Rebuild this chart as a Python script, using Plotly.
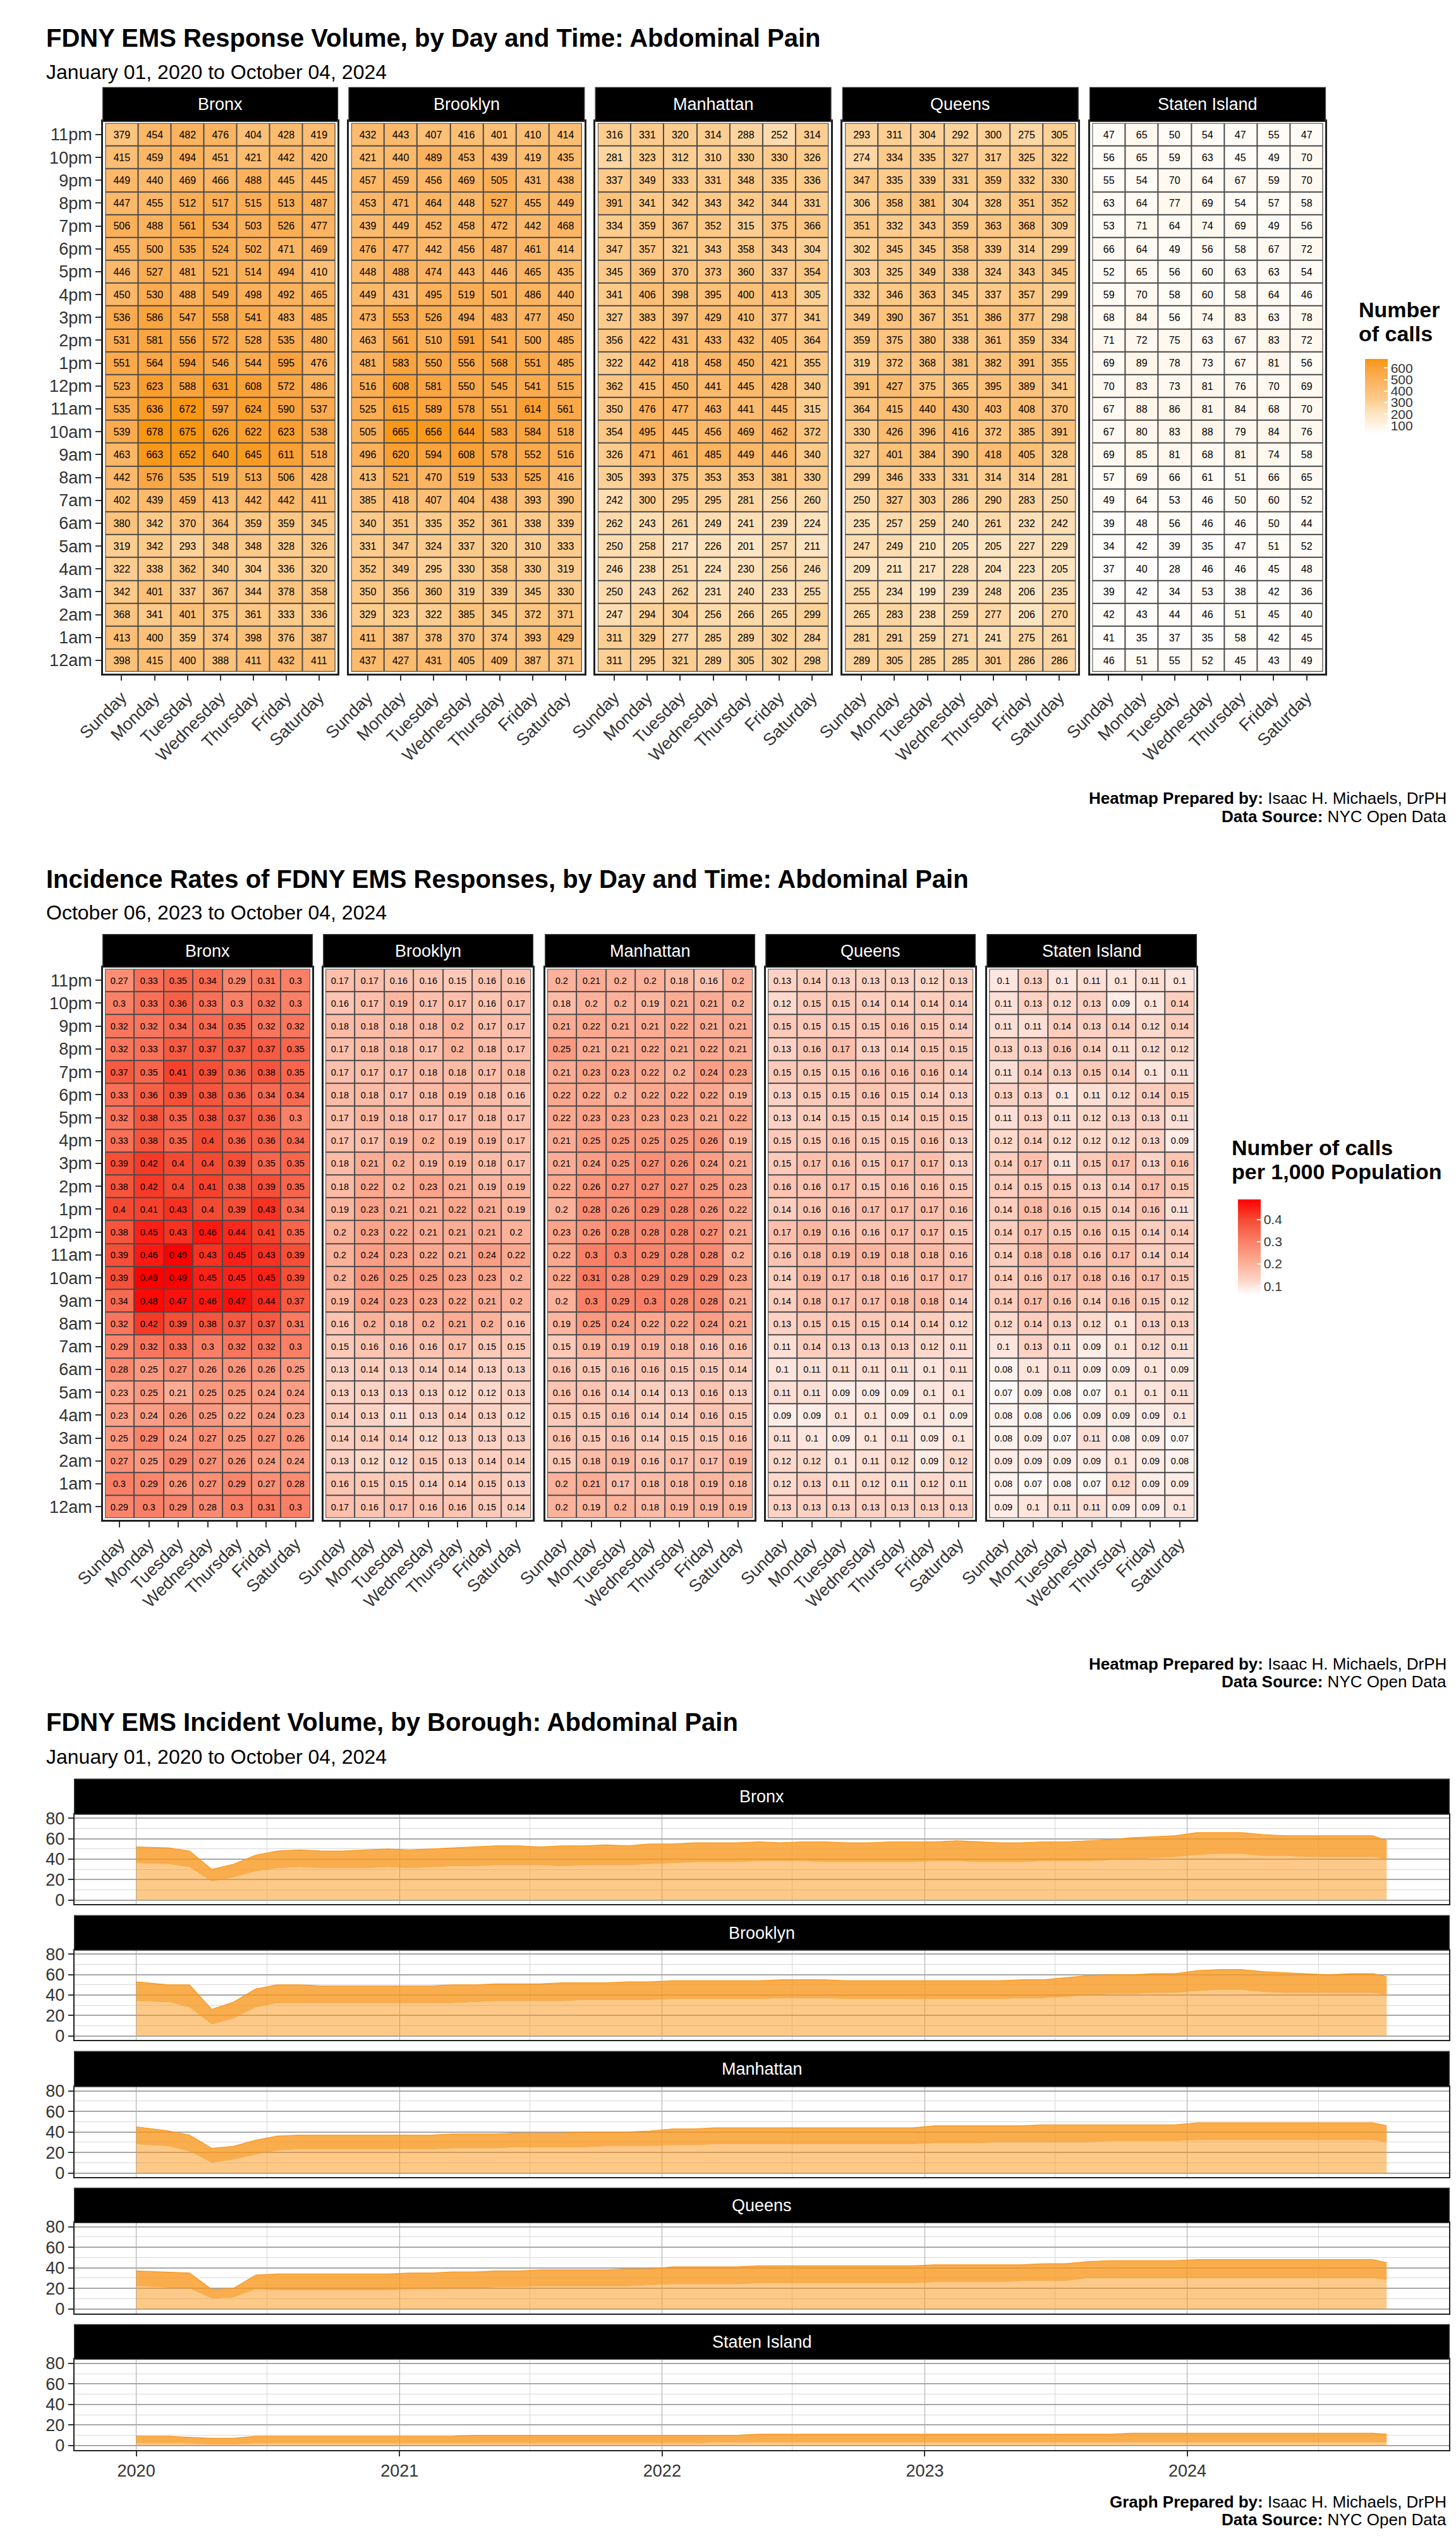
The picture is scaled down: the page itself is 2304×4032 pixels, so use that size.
import plotly.graph_objects as go
import pandas as pd

W, H = 2304, 4032
FONT = "Liberation Sans, Arial, Helvetica, sans-serif"

boroughs = ["Bronx", "Brooklyn", "Manhattan", "Queens", "Staten Island"]
days = ["Sunday", "Monday", "Tuesday", "Wednesday", "Thursday", "Friday", "Saturday"]
hours = ["11pm", "10pm", "9pm", "8pm", "7pm", "6pm", "5pm", "4pm", "3pm", "2pm", "1pm", "12pm",
         "11am", "10am", "9am", "8am", "7am", "6am", "5am", "4am", "3am", "2am", "1am", "12am"]

# ---------------- Heatmap 1: number of calls (rows: 11pm -> 12am, cols: Sunday -> Saturday)
calls_bronx = [
    [379, 454, 482, 476, 404, 428, 419], [415, 459, 494, 451, 421, 442, 420],
    [449, 440, 469, 466, 488, 445, 445], [447, 455, 512, 517, 515, 513, 487],
    [506, 488, 561, 534, 503, 526, 477], [455, 500, 535, 524, 502, 471, 469],
    [446, 527, 481, 521, 514, 494, 410], [450, 530, 488, 549, 498, 492, 465],
    [536, 586, 547, 558, 541, 483, 485], [531, 581, 556, 572, 528, 535, 480],
    [551, 564, 594, 546, 544, 595, 476], [523, 623, 588, 631, 608, 572, 486],
    [535, 636, 672, 597, 624, 590, 537], [539, 678, 675, 626, 622, 623, 538],
    [463, 663, 652, 640, 645, 611, 518], [442, 576, 535, 519, 513, 506, 428],
    [402, 439, 459, 413, 442, 442, 411], [380, 342, 370, 364, 359, 359, 345],
    [319, 342, 293, 348, 348, 328, 326], [322, 338, 362, 340, 304, 336, 320],
    [342, 401, 337, 367, 344, 378, 358], [368, 341, 401, 375, 361, 333, 336],
    [413, 400, 359, 374, 398, 376, 387], [398, 415, 400, 388, 411, 432, 411]]
calls_brooklyn = [
    [432, 443, 407, 416, 401, 410, 414], [421, 440, 489, 453, 439, 419, 435],
    [457, 459, 456, 469, 505, 431, 438], [453, 471, 464, 448, 527, 455, 449],
    [439, 449, 452, 458, 472, 442, 468], [476, 477, 442, 456, 487, 461, 414],
    [448, 488, 474, 443, 446, 465, 435], [449, 431, 495, 519, 501, 486, 440],
    [473, 553, 526, 494, 483, 477, 450], [463, 561, 510, 591, 541, 500, 485],
    [481, 583, 550, 556, 568, 551, 485], [516, 608, 581, 550, 545, 541, 515],
    [525, 615, 589, 578, 551, 614, 561], [505, 665, 656, 644, 583, 584, 518],
    [496, 620, 594, 608, 578, 552, 516], [413, 521, 470, 519, 533, 525, 416],
    [385, 418, 407, 404, 438, 393, 390], [340, 351, 335, 352, 361, 338, 339],
    [331, 347, 324, 337, 320, 310, 333], [352, 349, 295, 330, 358, 330, 319],
    [350, 356, 360, 319, 339, 345, 330], [329, 323, 322, 385, 345, 372, 371],
    [411, 387, 378, 370, 374, 393, 429], [437, 427, 431, 405, 409, 387, 371]]
calls_manhattan = [
    [316, 331, 320, 314, 288, 252, 314], [281, 323, 312, 310, 330, 330, 326],
    [337, 349, 333, 331, 348, 335, 336], [391, 341, 342, 343, 342, 344, 331],
    [334, 359, 367, 352, 315, 375, 366], [347, 357, 321, 343, 358, 343, 304],
    [345, 369, 370, 373, 360, 337, 354], [341, 406, 398, 395, 400, 413, 305],
    [327, 383, 397, 429, 410, 377, 341], [356, 422, 431, 433, 432, 405, 364],
    [322, 442, 418, 458, 450, 421, 355], [362, 415, 450, 441, 445, 428, 340],
    [350, 476, 477, 463, 441, 445, 315], [354, 495, 445, 456, 469, 462, 372],
    [326, 471, 461, 485, 449, 446, 340], [305, 393, 375, 353, 353, 381, 330],
    [242, 300, 295, 295, 281, 256, 260], [262, 243, 261, 249, 241, 239, 224],
    [250, 258, 217, 226, 201, 257, 211], [246, 238, 251, 224, 230, 256, 246],
    [250, 243, 262, 231, 240, 233, 255], [247, 294, 304, 256, 266, 265, 299],
    [311, 329, 277, 285, 289, 302, 284], [311, 295, 321, 289, 305, 302, 298]]
calls_queens = [
    [293, 311, 304, 292, 300, 275, 305], [274, 334, 335, 327, 317, 325, 322],
    [347, 335, 339, 331, 359, 332, 330], [306, 358, 381, 304, 328, 351, 352],
    [351, 332, 343, 359, 363, 368, 309], [302, 345, 345, 358, 339, 314, 299],
    [303, 325, 349, 338, 324, 343, 345], [332, 346, 363, 345, 337, 357, 299],
    [349, 390, 367, 351, 386, 377, 298], [359, 375, 380, 338, 361, 359, 334],
    [319, 372, 368, 381, 382, 391, 355], [391, 427, 375, 365, 395, 389, 341],
    [364, 415, 440, 430, 403, 408, 370], [330, 426, 396, 416, 372, 385, 391],
    [327, 401, 384, 390, 418, 405, 328], [299, 346, 333, 331, 314, 314, 281],
    [250, 327, 303, 286, 290, 283, 250], [235, 257, 259, 240, 261, 232, 242],
    [247, 249, 210, 205, 205, 227, 229], [209, 211, 217, 228, 204, 223, 205],
    [255, 234, 199, 239, 248, 206, 235], [265, 283, 238, 259, 277, 206, 270],
    [281, 291, 259, 271, 241, 275, 261], [289, 305, 285, 285, 301, 286, 286]]
calls_staten = [
    [47, 65, 50, 54, 47, 55, 47], [56, 65, 59, 63, 45, 49, 70],
    [55, 54, 70, 64, 67, 59, 70], [63, 64, 77, 69, 54, 57, 58],
    [53, 71, 64, 74, 69, 49, 56], [66, 64, 49, 56, 58, 67, 72],
    [52, 65, 56, 60, 63, 63, 54], [59, 70, 58, 60, 58, 64, 46],
    [68, 84, 56, 74, 83, 63, 78], [71, 72, 75, 63, 67, 83, 72],
    [69, 89, 78, 73, 67, 81, 56], [70, 83, 73, 81, 76, 70, 69],
    [67, 88, 86, 81, 84, 68, 70], [67, 80, 83, 88, 79, 84, 76],
    [69, 85, 81, 68, 81, 74, 58], [57, 69, 66, 61, 51, 66, 65],
    [49, 64, 53, 46, 50, 60, 52], [39, 48, 56, 46, 46, 50, 44],
    [34, 42, 39, 35, 47, 51, 52], [37, 40, 28, 46, 46, 45, 48],
    [39, 42, 34, 53, 38, 42, 36], [42, 43, 44, 46, 51, 45, 40],
    [41, 35, 37, 35, 58, 42, 45], [46, 51, 55, 52, 45, 43, 49]]

# ---------------- Heatmap 2: calls per 1,000 population
rate_bronx = [
    [0.27, 0.33, 0.35, 0.34, 0.29, 0.31, 0.3], [0.3, 0.33, 0.36, 0.33, 0.3, 0.32, 0.3],
    [0.32, 0.32, 0.34, 0.34, 0.35, 0.32, 0.32], [0.32, 0.33, 0.37, 0.37, 0.37, 0.37, 0.35],
    [0.37, 0.35, 0.41, 0.39, 0.36, 0.38, 0.35], [0.33, 0.36, 0.39, 0.38, 0.36, 0.34, 0.34],
    [0.32, 0.38, 0.35, 0.38, 0.37, 0.36, 0.3], [0.33, 0.38, 0.35, 0.4, 0.36, 0.36, 0.34],
    [0.39, 0.42, 0.4, 0.4, 0.39, 0.35, 0.35], [0.38, 0.42, 0.4, 0.41, 0.38, 0.39, 0.35],
    [0.4, 0.41, 0.43, 0.4, 0.39, 0.43, 0.34], [0.38, 0.45, 0.43, 0.46, 0.44, 0.41, 0.35],
    [0.39, 0.46, 0.49, 0.43, 0.45, 0.43, 0.39], [0.39, 0.49, 0.49, 0.45, 0.45, 0.45, 0.39],
    [0.34, 0.48, 0.47, 0.46, 0.47, 0.44, 0.37], [0.32, 0.42, 0.39, 0.38, 0.37, 0.37, 0.31],
    [0.29, 0.32, 0.33, 0.3, 0.32, 0.32, 0.3], [0.28, 0.25, 0.27, 0.26, 0.26, 0.26, 0.25],
    [0.23, 0.25, 0.21, 0.25, 0.25, 0.24, 0.24], [0.23, 0.24, 0.26, 0.25, 0.22, 0.24, 0.23],
    [0.25, 0.29, 0.24, 0.27, 0.25, 0.27, 0.26], [0.27, 0.25, 0.29, 0.27, 0.26, 0.24, 0.24],
    [0.3, 0.29, 0.26, 0.27, 0.29, 0.27, 0.28], [0.29, 0.3, 0.29, 0.28, 0.3, 0.31, 0.3]]
rate_brooklyn = [
    [0.17, 0.17, 0.16, 0.16, 0.15, 0.16, 0.16], [0.16, 0.17, 0.19, 0.17, 0.17, 0.16, 0.17],
    [0.18, 0.18, 0.18, 0.18, 0.2, 0.17, 0.17], [0.17, 0.18, 0.18, 0.17, 0.2, 0.18, 0.17],
    [0.17, 0.17, 0.17, 0.18, 0.18, 0.17, 0.18], [0.18, 0.18, 0.17, 0.18, 0.19, 0.18, 0.16],
    [0.17, 0.19, 0.18, 0.17, 0.17, 0.18, 0.17], [0.17, 0.17, 0.19, 0.2, 0.19, 0.19, 0.17],
    [0.18, 0.21, 0.2, 0.19, 0.19, 0.18, 0.17], [0.18, 0.22, 0.2, 0.23, 0.21, 0.19, 0.19],
    [0.19, 0.23, 0.21, 0.21, 0.22, 0.21, 0.19], [0.2, 0.23, 0.22, 0.21, 0.21, 0.21, 0.2],
    [0.2, 0.24, 0.23, 0.22, 0.21, 0.24, 0.22], [0.2, 0.26, 0.25, 0.25, 0.23, 0.23, 0.2],
    [0.19, 0.24, 0.23, 0.23, 0.22, 0.21, 0.2], [0.16, 0.2, 0.18, 0.2, 0.21, 0.2, 0.16],
    [0.15, 0.16, 0.16, 0.16, 0.17, 0.15, 0.15], [0.13, 0.14, 0.13, 0.14, 0.14, 0.13, 0.13],
    [0.13, 0.13, 0.13, 0.13, 0.12, 0.12, 0.13], [0.14, 0.13, 0.11, 0.13, 0.14, 0.13, 0.12],
    [0.14, 0.14, 0.14, 0.12, 0.13, 0.13, 0.13], [0.13, 0.12, 0.12, 0.15, 0.13, 0.14, 0.14],
    [0.16, 0.15, 0.15, 0.14, 0.14, 0.15, 0.13], [0.17, 0.16, 0.17, 0.16, 0.16, 0.15, 0.14]]
rate_manhattan = [
    [0.2, 0.21, 0.2, 0.2, 0.18, 0.16, 0.2], [0.18, 0.2, 0.2, 0.19, 0.21, 0.21, 0.2],
    [0.21, 0.22, 0.21, 0.21, 0.22, 0.21, 0.21], [0.25, 0.21, 0.21, 0.22, 0.21, 0.22, 0.21],
    [0.21, 0.23, 0.23, 0.22, 0.2, 0.24, 0.23], [0.22, 0.22, 0.2, 0.22, 0.22, 0.22, 0.19],
    [0.22, 0.23, 0.23, 0.23, 0.23, 0.21, 0.22], [0.21, 0.25, 0.25, 0.25, 0.25, 0.26, 0.19],
    [0.21, 0.24, 0.25, 0.27, 0.26, 0.24, 0.21], [0.22, 0.26, 0.27, 0.27, 0.27, 0.25, 0.23],
    [0.2, 0.28, 0.26, 0.29, 0.28, 0.26, 0.22], [0.23, 0.26, 0.28, 0.28, 0.28, 0.27, 0.21],
    [0.22, 0.3, 0.3, 0.29, 0.28, 0.28, 0.2], [0.22, 0.31, 0.28, 0.29, 0.29, 0.29, 0.23],
    [0.2, 0.3, 0.29, 0.3, 0.28, 0.28, 0.21], [0.19, 0.25, 0.24, 0.22, 0.22, 0.24, 0.21],
    [0.15, 0.19, 0.19, 0.19, 0.18, 0.16, 0.16], [0.16, 0.15, 0.16, 0.16, 0.15, 0.15, 0.14],
    [0.16, 0.16, 0.14, 0.14, 0.13, 0.16, 0.13], [0.15, 0.15, 0.16, 0.14, 0.14, 0.16, 0.15],
    [0.16, 0.15, 0.16, 0.14, 0.15, 0.15, 0.16], [0.15, 0.18, 0.19, 0.16, 0.17, 0.17, 0.19],
    [0.2, 0.21, 0.17, 0.18, 0.18, 0.19, 0.18], [0.2, 0.19, 0.2, 0.18, 0.19, 0.19, 0.19]]
rate_queens = [
    [0.13, 0.14, 0.13, 0.13, 0.13, 0.12, 0.13], [0.12, 0.15, 0.15, 0.14, 0.14, 0.14, 0.14],
    [0.15, 0.15, 0.15, 0.15, 0.16, 0.15, 0.14], [0.13, 0.16, 0.17, 0.13, 0.14, 0.15, 0.15],
    [0.15, 0.15, 0.15, 0.16, 0.16, 0.16, 0.14], [0.13, 0.15, 0.15, 0.16, 0.15, 0.14, 0.13],
    [0.13, 0.14, 0.15, 0.15, 0.14, 0.15, 0.15], [0.15, 0.15, 0.16, 0.15, 0.15, 0.16, 0.13],
    [0.15, 0.17, 0.16, 0.15, 0.17, 0.17, 0.13], [0.16, 0.16, 0.17, 0.15, 0.16, 0.16, 0.15],
    [0.14, 0.16, 0.16, 0.17, 0.17, 0.17, 0.16], [0.17, 0.19, 0.16, 0.16, 0.17, 0.17, 0.15],
    [0.16, 0.18, 0.19, 0.19, 0.18, 0.18, 0.16], [0.14, 0.19, 0.17, 0.18, 0.16, 0.17, 0.17],
    [0.14, 0.18, 0.17, 0.17, 0.18, 0.18, 0.14], [0.13, 0.15, 0.15, 0.15, 0.14, 0.14, 0.12],
    [0.11, 0.14, 0.13, 0.13, 0.13, 0.12, 0.11], [0.1, 0.11, 0.11, 0.11, 0.11, 0.1, 0.11],
    [0.11, 0.11, 0.09, 0.09, 0.09, 0.1, 0.1], [0.09, 0.09, 0.1, 0.1, 0.09, 0.1, 0.09],
    [0.11, 0.1, 0.09, 0.1, 0.11, 0.09, 0.1], [0.12, 0.12, 0.1, 0.11, 0.12, 0.09, 0.12],
    [0.12, 0.13, 0.11, 0.12, 0.11, 0.12, 0.11], [0.13, 0.13, 0.13, 0.13, 0.13, 0.13, 0.13]]
rate_staten = [
    [0.1, 0.13, 0.1, 0.11, 0.1, 0.11, 0.1], [0.11, 0.13, 0.12, 0.13, 0.09, 0.1, 0.14],
    [0.11, 0.11, 0.14, 0.13, 0.14, 0.12, 0.14], [0.13, 0.13, 0.16, 0.14, 0.11, 0.12, 0.12],
    [0.11, 0.14, 0.13, 0.15, 0.14, 0.1, 0.11], [0.13, 0.13, 0.1, 0.11, 0.12, 0.14, 0.15],
    [0.11, 0.13, 0.11, 0.12, 0.13, 0.13, 0.11], [0.12, 0.14, 0.12, 0.12, 0.12, 0.13, 0.09],
    [0.14, 0.17, 0.11, 0.15, 0.17, 0.13, 0.16], [0.14, 0.15, 0.15, 0.13, 0.14, 0.17, 0.15],
    [0.14, 0.18, 0.16, 0.15, 0.14, 0.16, 0.11], [0.14, 0.17, 0.15, 0.16, 0.15, 0.14, 0.14],
    [0.14, 0.18, 0.18, 0.16, 0.17, 0.14, 0.14], [0.14, 0.16, 0.17, 0.18, 0.16, 0.17, 0.15],
    [0.14, 0.17, 0.16, 0.14, 0.16, 0.15, 0.12], [0.12, 0.14, 0.13, 0.12, 0.1, 0.13, 0.13],
    [0.1, 0.13, 0.11, 0.09, 0.1, 0.12, 0.11], [0.08, 0.1, 0.11, 0.09, 0.09, 0.1, 0.09],
    [0.07, 0.09, 0.08, 0.07, 0.1, 0.1, 0.11], [0.08, 0.08, 0.06, 0.09, 0.09, 0.09, 0.1],
    [0.08, 0.09, 0.07, 0.11, 0.08, 0.09, 0.07], [0.09, 0.09, 0.09, 0.09, 0.1, 0.09, 0.08],
    [0.08, 0.07, 0.08, 0.07, 0.12, 0.09, 0.09], [0.09, 0.1, 0.11, 0.11, 0.09, 0.09, 0.1]]

# ---------------- Daily incident volume: monthly envelope of daily values
# (Jan 2020 ... Sep 2024, Oct 2024 partial) -> typical daily low / high within each month
vol_low = {
    "Bronx": [36, 35, 32, 18, 22, 28, 31, 32, 31, 31, 31, 32,
              31, 32, 33, 33, 34, 34, 34, 33, 34, 34, 34, 35,
              36, 37, 37, 37, 38, 38, 38, 37, 37, 37, 37, 37,
              38, 38, 37, 37, 37, 38, 38, 38, 39, 40, 41, 42,
              44, 45, 45, 43, 43, 42, 42, 42, 42, 40],
    "Brooklyn": [34, 33, 28, 11, 17, 28, 32, 32, 32, 32, 32, 32,
                 32, 32, 32, 33, 34, 34, 34, 34, 35, 35, 35, 35,
                 36, 36, 36, 36, 36, 37, 37, 37, 36, 36, 36, 36,
                 36, 36, 36, 36, 37, 37, 38, 40, 41, 41, 42, 42,
                 44, 45, 45, 43, 42, 42, 42, 42, 42, 40],
    "Manhattan": [28, 26, 21, 10, 13, 18, 22, 23, 23, 23, 23, 23,
                  23, 23, 24, 24, 24, 25, 25, 25, 25, 26, 26, 26,
                  27, 27, 28, 28, 28, 28, 28, 28, 28, 28, 28, 28,
                  29, 29, 29, 30, 30, 30, 30, 30, 31, 31, 31, 31,
                  32, 32, 32, 32, 32, 32, 32, 32, 32, 30],
    "Queens": [22, 21, 20, 10, 11, 19, 18, 18, 18, 18, 18, 18,
               19, 19, 20, 20, 21, 21, 22, 22, 22, 22, 22, 23,
               24, 24, 24, 24, 25, 25, 25, 25, 25, 25, 25, 25,
               26, 26, 26, 26, 27, 27, 27, 30, 30, 30, 30, 30,
               30, 30, 30, 30, 30, 30, 30, 30, 30, 28],
    "Staten Island": [2, 2, 2, 1, 1, 2, 2, 2, 2, 2, 2, 2,
                      2, 2, 2, 2, 2, 2, 2, 2, 2, 2, 2, 2,
                      2, 2, 3, 3, 3, 3, 3, 3, 3, 3, 3, 3,
                      3, 3, 3, 3, 3, 3, 3, 3, 3, 3, 3, 3,
                      3, 3, 3, 3, 3, 3, 3, 3, 3, 3],
}
vol_high = {
    "Bronx": [52, 51, 48, 30, 35, 44, 48, 49, 48, 48, 49, 50,
              49, 50, 51, 52, 53, 53, 52, 53, 53, 54, 53, 55,
              55, 56, 56, 56, 57, 56, 57, 57, 56, 56, 57, 57,
              57, 58, 57, 56, 56, 57, 57, 58, 59, 61, 62, 63,
              66, 66, 66, 64, 63, 63, 63, 63, 63, 58],
    "Brooklyn": [53, 50, 50, 26, 33, 46, 50, 50, 49, 49, 49, 49,
                 49, 49, 50, 50, 51, 51, 51, 52, 52, 52, 53, 53,
                 54, 54, 54, 54, 54, 55, 55, 55, 54, 54, 54, 54,
                 54, 54, 54, 54, 55, 55, 57, 59, 60, 60, 61, 61,
                 64, 65, 65, 63, 62, 61, 60, 61, 61, 58],
    "Manhattan": [45, 41, 37, 24, 26, 32, 36, 37, 37, 37, 37, 37,
                  37, 37, 38, 38, 38, 39, 39, 39, 40, 40, 40, 41,
                  43, 43, 44, 44, 44, 44, 44, 44, 44, 44, 44, 44,
                  46, 46, 46, 46, 46, 47, 47, 47, 47, 47, 47, 47,
                  49, 49, 49, 49, 49, 49, 49, 49, 49, 46],
    "Queens": [37, 36, 35, 19, 20, 33, 34, 34, 34, 34, 34, 34,
               35, 35, 36, 36, 37, 37, 38, 38, 38, 38, 39, 39,
               41, 41, 41, 41, 42, 42, 42, 42, 42, 42, 42, 42,
               43, 43, 43, 43, 43, 44, 44, 46, 47, 47, 47, 47,
               48, 48, 48, 48, 48, 48, 48, 48, 48, 45],
    "Staten Island": [9, 9, 8, 7, 7, 9, 9, 9, 9, 9, 9, 9,
                      9, 9, 9, 10, 10, 10, 10, 10, 10, 10, 10, 10,
                      10, 10, 10, 10, 11, 11, 11, 11, 11, 11, 11, 11,
                      11, 11, 11, 11, 11, 11, 11, 11, 11, 12, 12, 12,
                      12, 12, 12, 12, 12, 12, 12, 12, 12, 11],
}
start_date, end_date = "2020-01-01", "2024-10-04"
year_ticks = ["2020", "2021", "2022", "2023", "2024"]

# x positions for the monthly envelope (first and last points at the data span ends)
months = pd.date_range(start_date, "2024-10-01", freq="MS")
env_x = [m + pd.Timedelta(days=14) for m in months]
env_x[0] = pd.Timestamp(start_date)
env_x[-1] = pd.Timestamp(end_date)


# ---------------- layout helpers (pixel -> paper)
def fx(p):
    return p / W


def fy(p):
    return 1 - p / H


def ax_names(n):
    s = "" if n == 1 else str(n)
    return f"x{s}", f"y{s}", f"xaxis{s}", f"yaxis{s}"


h1_cols = [(112, 491), (509, 889), (907, 1287), (1306, 1686), (1705, 2085)]
h1_rows = (177, 1054)
h1_strip = (123, 177)
h2_cols = [(112, 450), (468, 806), (826, 1164), (1182, 1520), (1539, 1877)]
h2_rows = (1521, 2399)
h2_strip = (1469, 1521)
ts_cols = (66, 2285)
ts_panels = [(2867, 3010), (3083, 3226), (3300, 3444), (3516, 3660), (3733, 3877)]
ts_strips = [(2811, 2867), (3028, 3083), (3244, 3300), (3461, 3516), (3678, 3733)]

AX_TXT = 27
LEG_TXT = 21
TXT_COL = "#333333"
PAD = 0.07  # small white padding between panel border and tiles (in tile units)

orange_scale = [[0, "#FFFFFF"], [0.3, "#FEE2BC"], [0.45, "#FDCD8F"], [0.68, "#FCB563"],
                [0.88, "#FAA23A"], [1, "#F9960F"]]
red_scale = [[0, "#FFFFFF"], [0.16, "#FDD3C5"], [0.37, "#FCA88F"], [0.56, "#F98067"],
             [0.79, "#F54A32"], [1, "#FF0000"]]

fig = go.Figure()
layout = dict(
    width=W, height=H, margin=dict(l=0, r=0, t=0, b=0),
    paper_bgcolor="white", plot_bgcolor="white",
    font=dict(family=FONT, color="black"),
    showlegend=False, shapes=[], annotations=[],
)

calls_sets = [calls_bronx, calls_brooklyn, calls_manhattan, calls_queens, calls_staten]
rate_sets = [rate_bronx, rate_brooklyn, rate_manhattan, rate_queens, rate_staten]
all_calls = [v for s in calls_sets for r in s for v in r]
all_rates = [v for s in rate_sets for r in s for v in r]


def add_strip(x0, x1, y0, y1, label, size=AX_TXT):
    layout["shapes"].append(dict(type="rect", xref="paper", yref="paper",
                                 x0=fx(x0), x1=fx(x1), y0=fy(y1), y1=fy(y0),
                                 fillcolor="black", line=dict(color="#333333", width=1.5)))
    layout["annotations"].append(dict(text=label, xref="paper", yref="paper",
                                      x=fx((x0 + x1) / 2), y=fy((y0 + y1) / 2),
                                      xanchor="center", yanchor="middle", showarrow=False,
                                      font=dict(color="white", size=size, family=FONT)))


def add_heat_facets(datasets, cols, rows, strip, axis_offset, coloraxis, cell_size):
    nx, ny = len(days), len(hours)
    for i, (b, data) in enumerate(zip(boroughs, datasets)):
        n = axis_offset + i + 1
        xa, ya, xk, yk = ax_names(n)
        fig.add_trace(go.Heatmap(
            z=data, x=days, y=hours, xaxis=xa, yaxis=ya, coloraxis=coloraxis,
            xgap=2, ygap=2, texttemplate="%{z}",
            textfont=dict(size=cell_size, color="black", family=FONT),
            hoverinfo="skip"))
        layout[xk] = dict(
            domain=[fx(cols[i][0]), fx(cols[i][1])], anchor=ya, type="category",
            range=[-0.5 - PAD, nx - 0.5 + PAD],
            showgrid=False, zeroline=False, showline=True, mirror=True,
            linecolor="#222222", linewidth=2.5, ticks="outside", ticklen=9,
            tickcolor="#333333", tickwidth=1.5, tickangle=-45,
            tickfont=dict(size=AX_TXT, color=TXT_COL, family=FONT))
        layout[yk] = dict(
            domain=[fy(rows[1]), fy(rows[0])], anchor=xa, type="category",
            range=[ny - 0.5 + PAD, -0.5 - PAD], showgrid=False, zeroline=False,
            showline=True, mirror=True, linecolor="#222222", linewidth=2.5,
            ticks="outside" if i == 0 else "", ticklen=9, tickcolor="#333333",
            tickwidth=1.5, showticklabels=(i == 0),
            tickfont=dict(size=AX_TXT, color=TXT_COL, family=FONT))
        # dark backing that shows through the tile gaps as tile outlines
        layout["shapes"].append(dict(type="rect", xref=xa, yref=ya,
                                     x0=-0.5, x1=nx - 0.5, y0=-0.5, y1=ny - 0.5, layer="below",
                                     fillcolor="#4a4a4a", line=dict(width=0)))
        add_strip(cols[i][0], cols[i][1], strip[0], strip[1], b)


add_heat_facets(calls_sets, h1_cols, h1_rows, h1_strip, 0, "coloraxis", 16)
add_heat_facets(rate_sets, h2_cols, h2_rows, h2_strip, 5, "coloraxis2", 14.5)

layout["coloraxis"] = dict(
    colorscale=orange_scale, cmin=min(all_calls), cmax=max(all_calls),
    colorbar=dict(x=fx(2139), xanchor="left", y=fy(614), yanchor="middle",
                  len=139, lenmode="pixels", thickness=36, thicknessmode="pixels",
                  outlinewidth=0, ticks="inside", ticklen=6, tickcolor="white", tickwidth=1.5,
                  tickvals=[100, 200, 300, 400, 500, 600],
                  tickfont=dict(size=LEG_TXT, color=TXT_COL, family=FONT)))
layout["coloraxis2"] = dict(
    colorscale=red_scale, cmin=min(all_rates), cmax=max(all_rates),
    colorbar=dict(x=fx(1934), xanchor="left", y=fy(1966), yanchor="middle",
                  len=171, lenmode="pixels", thickness=36, thicknessmode="pixels",
                  outlinewidth=0, ticks="inside", ticklen=6, tickcolor="white", tickwidth=1.5,
                  tickvals=[0.1, 0.2, 0.3, 0.4],
                  tickfont=dict(size=LEG_TXT, color=TXT_COL, family=FONT)))

# ---------------- time series facets
for i, b in enumerate(boroughs):
    n = 11 + i
    xa, ya, xk, yk = ax_names(n)
    fig.add_trace(go.Scatter(x=env_x, y=vol_low[b], mode="lines", xaxis=xa, yaxis=ya,
                             line=dict(width=0, color="rgba(249,148,20,0)"),
                             fill="tozeroy", fillcolor="rgba(249,148,20,0.5)", hoverinfo="skip"))
    fig.add_trace(go.Scatter(x=env_x, y=vol_high[b], mode="lines", xaxis=xa, yaxis=ya,
                             line=dict(width=1.2, color="#F8961E"),
                             fill="tonexty", fillcolor="rgba(249,150,25,0.78)", hoverinfo="skip"))
    last = i == len(boroughs) - 1
    layout[xk] = dict(
        domain=[fx(ts_cols[0]), fx(ts_cols[1])], anchor=ya, type="date",
        range=["2019-10-07", "2024-12-30"],
        tickvals=[f"{y}-01-01" for y in year_ticks], ticktext=year_ticks,
        showgrid=True, gridcolor="#A8A8A8", gridwidth=1.2,
        minor=dict(dtick="M6", tick0="2020-01-01", showgrid=True, gridcolor="#D8D8D8", gridwidth=1),
        zeroline=False, showline=True, mirror=True, linecolor="#222222", linewidth=2,
        ticks="outside" if last else "", ticklen=8, tickcolor="#333333", tickwidth=1.5,
        showticklabels=last, tickfont=dict(size=AX_TXT, color=TXT_COL, family=FONT))
    layout[yk] = dict(
        domain=[fy(ts_panels[i][1]), fy(ts_panels[i][0])], anchor=xa,
        range=[-4.2, 84], tickvals=[0, 20, 40, 60, 80],
        showgrid=True, gridcolor="#A8A8A8", gridwidth=1.5,
        minor=dict(tickvals=[10, 30, 50, 70], showgrid=True, gridcolor="#D8D8D8", gridwidth=1),
        zeroline=False, showline=True, mirror=True, linecolor="#222222", linewidth=2,
        ticks="outside", ticklen=8, tickcolor="#333333", tickwidth=1.5,
        tickfont=dict(size=AX_TXT, color=TXT_COL, family=FONT))
    add_strip(ts_cols[0], ts_cols[1], ts_strips[i][0], ts_strips[i][1], b)


# ---------------- titles, legend titles and captions
def add_text(text, xpix, ypix, size, anchor="left", bold=False):
    layout["annotations"].append(dict(
        text=f"<b>{text}</b>" if bold else text, xref="paper", yref="paper",
        x=fx(xpix), y=fy(ypix), xanchor=anchor, yanchor="middle", showarrow=False,
        align=anchor, font=dict(size=size, color="black", family=FONT)))


add_text("FDNY EMS Response Volume, by Day and Time: Abdominal Pain", 18, 44, 40, bold=True)
add_text("January 01, 2020 to October 04, 2024", 18, 98, 32)
add_text("Incidence Rates of FDNY EMS Responses, by Day and Time: Abdominal Pain", 18, 1381, 40, bold=True)
add_text("October 06, 2023 to October 04, 2024", 18, 1434, 32)
add_text("FDNY EMS Incident Volume, by Borough: Abdominal Pain", 18, 2720, 40, bold=True)
add_text("January 01, 2020 to October 04, 2024", 18, 2776, 32)

add_text("Number", 2137, 476, 34, bold=True)
add_text("of calls", 2137, 514, 34, bold=True)
add_text("Number of calls", 1932, 1808, 34, bold=True)
add_text("per 1,000 Population", 1932, 1846, 34, bold=True)

for (lbl, y1, y2) in [("Heatmap", 1252, 1281), ("Heatmap", 2628, 2656), ("Graph", 3960, 3988)]:
    add_text(f"<b>{lbl} Prepared by:</b> Isaac H. Michaels, DrPH", 2283, y1, 26, anchor="right")
    add_text("<b>Data Source:</b> NYC Open Data", 2283, y2, 26, anchor="right")

fig.update_layout(**layout)
fig.write_html("out.html")
